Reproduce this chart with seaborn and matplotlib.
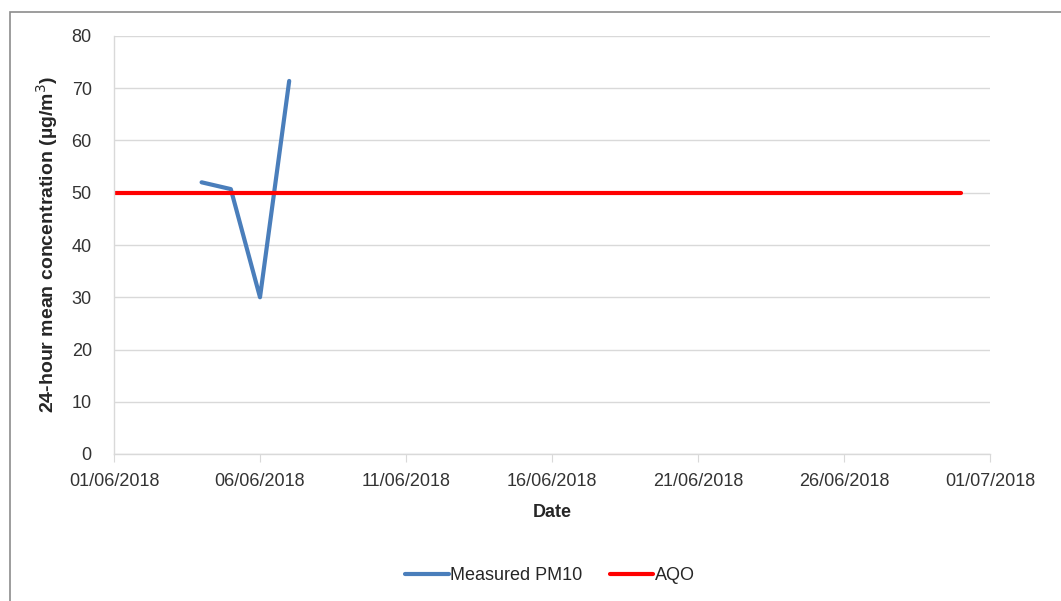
import matplotlib
matplotlib.use("Agg")
import matplotlib.pyplot as plt
import matplotlib.dates as mdates
from matplotlib.patches import Rectangle
import numpy as np
import pandas as pd
import seaborn as sn

# data
pm10_dates = ["2018-06-04", "2018-06-05", "2018-06-06", "2018-06-07"]
pm10_values = [52.0, 50.7, 30.0, 71.4]
aqo_dates = ["2018-06-01", "2018-06-30"]
aqo_values = [50, 50]
x_ticks = ["2018-06-01", "2018-06-06", "2018-06-11", "2018-06-16",
           "2018-06-21", "2018-06-26", "2018-07-01"]
y_ticks = [0, 10, 20, 30, 40, 50, 60, 70, 80]

sn.set_style("white")
plt.rcParams['font.family'] = ['Liberation Sans', 'DejaVu Sans']

pm10 = pd.DataFrame({"date": pd.to_datetime(pm10_dates), "value": pm10_values})
aqo = pd.DataFrame({"date": pd.to_datetime(aqo_dates), "value": aqo_values})

fig = plt.figure(figsize=(10.61, 6.01), dpi=100)
fig.patch.set_facecolor('white')
fig.patches.append(Rectangle((10 / 1061, -0.01), 1.02, 1 - 12 / 601 + 0.01,
                             transform=fig.transFigure, fill=False,
                             edgecolor='#8c8c8c', linewidth=1.2))
ax = fig.add_axes([114 / 1061, 1 - 454 / 601, (990 - 114) / 1061, (454 - 36) / 601])

sn.lineplot(data=pm10, x="date", y="value", ax=ax, color='#4a7ebb',
            linewidth=3, label="Measured PM10")
sn.lineplot(data=aqo, x="date", y="value", ax=ax, color='#ff0000',
            linewidth=3, label="AQO")

ax.set_xlim(pd.Timestamp(x_ticks[0]), pd.Timestamp(x_ticks[-1]))
ax.set_ylim(0, 80)
ax.set_xticks(pd.to_datetime(x_ticks))
ax.xaxis.set_major_formatter(mdates.DateFormatter("%d/%m/%Y"))
ax.set_yticks(y_ticks)

ax.grid(axis='y', color='#d9d9d9', linewidth=1)
ax.grid(axis='x', visible=False)
for side in ['top', 'right']:
    ax.spines[side].set_visible(False)
for side in ['left', 'bottom']:
    ax.spines[side].set_color('#d9d9d9')
    ax.spines[side].set_linewidth(1)

ax.tick_params(axis='x', which='major', length=6, color='#d9d9d9', direction='out',
               labelsize=13, labelcolor='#333333', bottom=True, pad=8)
ax.tick_params(axis='y', length=0, labelsize=13, labelcolor='#333333', pad=16)

ax.set_xlabel("Date", fontsize=13, fontweight='bold', labelpad=10)
ax.set_ylabel("24-hour mean concentration (µg/m$^3$)", fontsize=14,
              fontweight='bold', labelpad=8)

ax.legend(loc='center', bbox_to_anchor=(550 / 1061, 1 - 576 / 601),
          bbox_transform=fig.transFigure, ncol=2, frameon=False,
          fontsize=13, handlelength=2.4, columnspacing=1.5, handletextpad=0.1)

plt.savefig("out.png", dpi=100)
